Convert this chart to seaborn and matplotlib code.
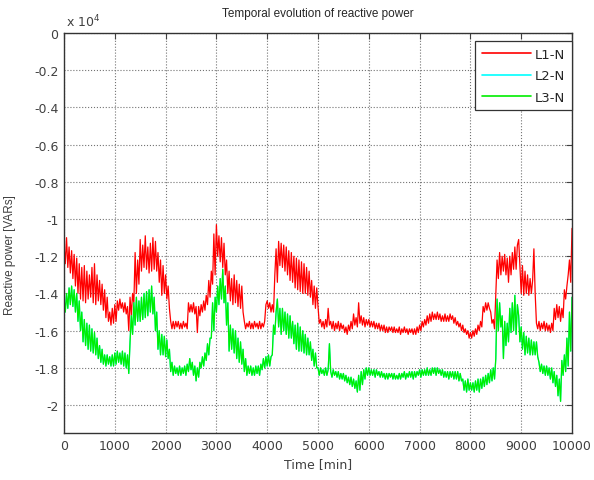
import numpy as np
import pandas as pd
import matplotlib
matplotlib.use("Agg")
import matplotlib.pyplot as plt
from matplotlib.ticker import FuncFormatter
import seaborn as sns

# Sample instants, one every 25 minutes
time_min = np.arange(0, 10001, 25)

# Reactive power per phase, in units of 10^4 VAR (one row = 500 min)
l1_n = [
    -1.14, -1.24, -1.10, -1.26, -1.15, -1.29, -1.17, -1.32, -1.19, -1.36, -1.21, -1.40, -1.24, -1.43, -1.26, -1.44, -1.25, -1.45, -1.28, -1.43,
    -1.30, -1.42, -1.26, -1.45, -1.24, -1.46, -1.30, -1.44, -1.33, -1.46, -1.35, -1.49, -1.38, -1.53, -1.42, -1.55, -1.50, -1.57, -1.48, -1.56,
    -1.46, -1.55, -1.44, -1.49, -1.43, -1.48, -1.45, -1.50, -1.45, -1.51, -1.47, -1.60, -1.42, -1.52, -1.40, -1.45, -1.18, -1.40, -1.22, -1.35,
    -1.11, -1.28, -1.14, -1.26, -1.09, -1.27, -1.15, -1.29, -1.13, -1.28, -1.10, -1.27, -1.12, -1.28, -1.18, -1.34, -1.22, -1.41, -1.25, -1.40,
    -1.30, -1.43, -1.36, -1.48, -1.55, -1.59, -1.55, -1.59, -1.55, -1.58, -1.55, -1.59, -1.56, -1.59, -1.55, -1.58, -1.56, -1.59, -1.45, -1.50,
    -1.46, -1.50, -1.45, -1.51, -1.47, -1.61, -1.47, -1.52, -1.46, -1.50, -1.44, -1.49, -1.41, -1.46, -1.33, -1.42, -1.28, -1.35, -1.08, -1.30,
    -1.03, -1.20, -1.09, -1.23, -1.10, -1.26, -1.13, -1.30, -1.22, -1.40, -1.28, -1.44, -1.32, -1.46, -1.30, -1.45, -1.33, -1.47, -1.35, -1.48,
    -1.36, -1.50, -1.55, -1.59, -1.56, -1.58, -1.55, -1.59, -1.56, -1.59, -1.55, -1.58, -1.56, -1.59, -1.55, -1.59, -1.56, -1.58, -1.55, -1.46,
    -1.44, -1.48, -1.45, -1.50, -1.46, -1.50, -1.30, -1.16, -1.34, -1.12, -1.25, -1.13, -1.26, -1.14, -1.28, -1.15, -1.30, -1.17, -1.33, -1.18,
    -1.34, -1.20, -1.37, -1.21, -1.38, -1.22, -1.39, -1.23, -1.40, -1.24, -1.40, -1.26, -1.41, -1.28, -1.42, -1.33, -1.46, -1.36, -1.48, -1.37,
    -1.47, -1.56, -1.54, -1.58, -1.55, -1.59, -1.54, -1.58, -1.48, -1.57, -1.55, -1.59, -1.55, -1.60, -1.56, -1.59, -1.55, -1.60, -1.56, -1.59,
    -1.57, -1.61, -1.58, -1.62, -1.57, -1.60, -1.55, -1.59, -1.51, -1.57, -1.53, -1.58, -1.45, -1.56, -1.52, -1.57, -1.53, -1.58, -1.54, -1.57,
    -1.54, -1.58, -1.55, -1.58, -1.55, -1.59, -1.56, -1.59, -1.56, -1.60, -1.57, -1.60, -1.57, -1.61, -1.58, -1.61, -1.58, -1.60, -1.58, -1.61,
    -1.58, -1.61, -1.59, -1.61, -1.58, -1.62, -1.59, -1.61, -1.58, -1.61, -1.59, -1.62, -1.59, -1.61, -1.59, -1.62, -1.59, -1.62, -1.58, -1.61,
    -1.57, -1.60, -1.55, -1.58, -1.54, -1.57, -1.52, -1.56, -1.51, -1.55, -1.50, -1.54, -1.51, -1.54, -1.50, -1.54, -1.51, -1.55, -1.52, -1.55,
    -1.51, -1.55, -1.52, -1.55, -1.51, -1.54, -1.52, -1.56, -1.53, -1.57, -1.55, -1.58, -1.56, -1.60, -1.57, -1.61, -1.59, -1.62, -1.60, -1.64,
    -1.61, -1.64, -1.60, -1.63, -1.59, -1.62, -1.57, -1.60, -1.55, -1.58, -1.47, -1.50, -1.45, -1.49, -1.45, -1.48, -1.50, -1.56, -1.54, -1.59,
    -1.41, -1.22, -1.32, -1.18, -1.30, -1.20, -1.28, -1.19, -1.30, -1.21, -1.34, -1.20, -1.30, -1.18, -1.27, -1.15, -1.27, -1.14, -1.11, -1.26,
    -1.40, -1.25, -1.41, -1.28, -1.40, -1.30, -1.41, -1.32, -1.40, -1.33, -1.16, -1.40, -1.56, -1.59, -1.55, -1.60, -1.56, -1.59, -1.55, -1.60,
    -1.56, -1.60, -1.57, -1.61, -1.56, -1.60, -1.48, -1.54, -1.46, -1.53, -1.47, -1.55, -1.48, -1.53, -1.38, -1.43, -1.36, -1.30, -1.22, -1.34,
    -1.05,
]

l3_n = [
    -1.42, -1.50, -1.40, -1.48, -1.37, -1.46, -1.36, -1.47, -1.38, -1.50, -1.40, -1.55, -1.44, -1.60, -1.50, -1.66, -1.54, -1.68, -1.56, -1.70,
    -1.57, -1.71, -1.59, -1.72, -1.61, -1.73, -1.64, -1.75, -1.68, -1.77, -1.70, -1.78, -1.73, -1.79, -1.73, -1.78, -1.74, -1.79, -1.73, -1.79,
    -1.72, -1.78, -1.71, -1.77, -1.72, -1.78, -1.71, -1.79, -1.72, -1.80, -1.73, -1.83, -1.66, -1.52, -1.62, -1.45, -1.57, -1.42, -1.55, -1.44,
    -1.55, -1.42, -1.54, -1.40, -1.53, -1.39, -1.52, -1.38, -1.50, -1.36, -1.51, -1.42, -1.60, -1.50, -1.70, -1.60, -1.73, -1.62, -1.73, -1.63,
    -1.74, -1.65, -1.75, -1.70, -1.82, -1.77, -1.84, -1.79, -1.83, -1.80, -1.84, -1.79, -1.84, -1.80, -1.83, -1.79, -1.84, -1.78, -1.82, -1.75,
    -1.81, -1.77, -1.84, -1.79, -1.87, -1.80, -1.85, -1.77, -1.80, -1.74, -1.79, -1.72, -1.76, -1.67, -1.73, -1.64, -1.64, -1.45, -1.60, -1.42,
    -1.50, -1.36, -1.46, -1.32, -1.43, -1.27, -1.45, -1.36, -1.57, -1.45, -1.71, -1.57, -1.70, -1.59, -1.72, -1.60, -1.75, -1.64, -1.77, -1.66,
    -1.78, -1.70, -1.82, -1.75, -1.84, -1.79, -1.83, -1.79, -1.84, -1.80, -1.84, -1.79, -1.83, -1.79, -1.84, -1.78, -1.81, -1.75, -1.80, -1.74,
    -1.79, -1.73, -1.79, -1.74, -1.73, -1.57, -1.62, -1.50, -1.43, -1.58, -1.48, -1.62, -1.48, -1.60, -1.50, -1.62, -1.51, -1.64, -1.52, -1.64,
    -1.55, -1.67, -1.57, -1.70, -1.56, -1.71, -1.58, -1.71, -1.60, -1.72, -1.62, -1.73, -1.64, -1.73, -1.66, -1.76, -1.70, -1.79, -1.72, -1.80,
    -1.80, -1.84, -1.80, -1.83, -1.81, -1.84, -1.80, -1.84, -1.81, -1.67, -1.82, -1.85, -1.81, -1.84, -1.82, -1.85, -1.82, -1.86, -1.83, -1.86,
    -1.83, -1.87, -1.84, -1.88, -1.85, -1.89, -1.85, -1.90, -1.86, -1.91, -1.87, -1.93, -1.84, -1.92, -1.82, -1.89, -1.81, -1.86, -1.80, -1.84,
    -1.80, -1.84, -1.81, -1.84, -1.81, -1.85, -1.81, -1.84, -1.82, -1.85, -1.82, -1.85, -1.83, -1.86, -1.83, -1.86, -1.83, -1.85, -1.83, -1.86,
    -1.83, -1.86, -1.84, -1.86, -1.83, -1.86, -1.83, -1.85, -1.82, -1.86, -1.83, -1.85, -1.82, -1.85, -1.82, -1.86, -1.82, -1.85, -1.82, -1.84,
    -1.81, -1.85, -1.81, -1.84, -1.81, -1.84, -1.80, -1.84, -1.81, -1.84, -1.80, -1.83, -1.80, -1.84, -1.80, -1.83, -1.81, -1.84, -1.81, -1.85,
    -1.82, -1.85, -1.82, -1.86, -1.82, -1.85, -1.82, -1.86, -1.82, -1.86, -1.82, -1.87, -1.83, -1.87, -1.86, -1.92, -1.87, -1.93, -1.86, -1.92,
    -1.88, -1.92, -1.88, -1.93, -1.87, -1.92, -1.86, -1.93, -1.86, -1.91, -1.85, -1.90, -1.84, -1.89, -1.83, -1.88, -1.81, -1.87, -1.80, -1.86,
    -1.75, -1.43, -1.60, -1.45, -1.58, -1.52, -1.75, -1.55, -1.68, -1.56, -1.66, -1.48, -1.61, -1.45, -1.60, -1.41, -1.62, -1.46, -1.52, -1.66,
    -1.58, -1.70, -1.61, -1.73, -1.63, -1.72, -1.64, -1.73, -1.65, -1.73, -1.66, -1.73, -1.66, -1.74, -1.77, -1.82, -1.78, -1.83, -1.79, -1.84,
    -1.79, -1.84, -1.80, -1.86, -1.80, -1.88, -1.82, -1.90, -1.84, -1.95, -1.86, -1.98, -1.76, -1.84, -1.73, -1.82, -1.64, -1.79, -1.50, -1.71,
    -1.42,
]

# L2-N follows L3-N and sits underneath it
l2_n = list(l3_n)

phase_labels = ["L1-N", "L2-N", "L3-N"]
phase_colors = ["#ff0000", "#00ffff", "#00ee00"]
y_ticks = np.arange(0, -2.01, -0.2)
x_ticks = np.arange(0, 10001, 1000)

scale = 1e4
df = pd.DataFrame({
    "time": np.concatenate([time_min] * 3),
    "power": np.concatenate([np.array(l1_n), np.array(l2_n), np.array(l3_n)]) * scale,
    "phase": np.repeat(phase_labels, len(time_min)),
})

sns.set_style("white")
plt.rcParams["font.family"] = ["DejaVu Sans"]
narrow = ["Liberation Sans", "DejaVu Sans"]

fig = plt.figure(figsize=(5.94, 4.81), dpi=100)
ax = fig.add_axes([64 / 594, 1 - 434 / 481, 508 / 594, 400 / 481])

for name, color in zip(phase_labels, phase_colors):
    sns.lineplot(data=df[df["phase"] == name], x="time", y="power", color=color,
                 linewidth=0.9, estimator=None, sort=False, label=name, ax=ax)

ax.set_xlim(0, 10000)
ax.set_ylim(-2.15 * scale, 0)
ax.set_xticks(x_ticks)
ax.set_yticks(y_ticks * scale)
ax.yaxis.set_major_formatter(FuncFormatter(lambda v, p: f"{v / scale:g}"))
ax.xaxis.set_major_formatter(FuncFormatter(lambda v, p: f"{v:g}"))

ax.grid(True, linestyle=":", color="0.45", linewidth=0.8)
ax.tick_params(direction="in", top=True, right=True, length=4, width=0.8,
               labelsize=9, pad=4, colors="0.25", labelcolor="0.25")
for sp in ax.spines.values():
    sp.set_color("0.2")
    sp.set_linewidth(1.0)

ax.set_title("Temporal evolution of reactive power", fontsize=8.5, color="0.15",
             pad=12, family=narrow)
ax.set_xlabel("Time [min]", fontsize=9, color="0.25", labelpad=4)
ax.set_ylabel("Reactive power [VARs]", fontsize=8.5, color="0.25", family=narrow)
ax.yaxis.set_label_coords(-0.095, 0.447)
ax.text(0.003, 1.01, r"x 10$^4$", transform=ax.transAxes, ha="left", va="bottom",
        fontsize=9, color="0.25")

leg = ax.legend(loc="upper right", bbox_to_anchor=(1.0, 0.98), fontsize=9.5,
                frameon=True, fancybox=False, edgecolor="0.2", framealpha=1,
                handlelength=3.7, handletextpad=0.35, labelspacing=0.65,
                borderpad=0.5, borderaxespad=0.0)
leg.get_frame().set_linewidth(0.9)
for line in leg.get_lines():
    line.set_linewidth(1.2)

fig.savefig("out.png", dpi=100)
